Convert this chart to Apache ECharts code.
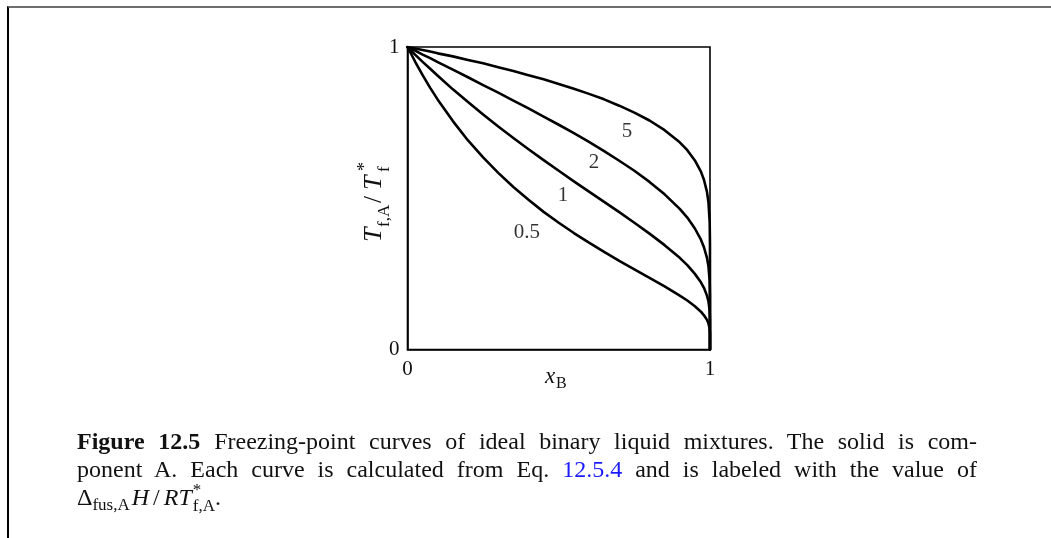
<!DOCTYPE html>
<html>
<head>
<meta charset="utf-8">
<script src="https://cdn.jsdelivr.net/npm/echarts@6/dist/echarts.min.js"></script>
<style>
  html, body { margin:0; padding:0; background:#fff; width:1051px; height:538px; overflow:hidden; }
  #frame { position:absolute; left:7px; top:6px; width:1044px; height:532px;
           border-top:2px solid #6e6e6e; border-left:2px solid #000; box-sizing:border-box; }
  #chart { position:absolute; left:0; top:0; width:1051px; height:538px; }
  #caption { position:absolute; left:77px; top:427px; width:900px;
             font-family:"Liberation Serif", "DejaVu Serif", serif; font-size:24px; color:#111; }
  .ln { height:28px; line-height:28px; white-space:nowrap; }
  .just { text-align:justify; text-align-last:justify; white-space:normal; overflow:visible; }
  .blue { color:#1a1aff; }
  .gap { display:inline-block; width:14px; }
  .sl { display:inline-block; margin:0 4px; }
  .stack { display:inline-block; vertical-align:middle; line-height:0.95; font-size:17px; position:relative; top:-1px; margin-left:1px; }
  .stack span { display:block; }
  sub { font-size:17px; vertical-align:-5px; line-height:0; margin-right:2px; }
</style>
</head>
<body>
<div id="frame"></div>
<div id="chart"></div>
<div id="caption">
  <div class="ln just"><b>Figure 12.5</b><span class="gap"></span>Freezing-point curves of ideal binary liquid mixtures. The solid is com-</div>
  <div class="ln just">ponent A. Each curve is calculated from Eq. <span class="blue">12.5.4</span> and is labeled with the value of</div>
  <div class="ln">Δ<sub>fus,A</sub><i>H</i><span class="sl">/</span><i>RT</i><span class="stack"><span>*</span><span>f,A</span></span>.</div>
</div>
<script>
// mole fraction of B (x axis)
const xB = [0, 0.025, 0.05, 0.075, 0.1, 0.15, 0.2, 0.25, 0.3, 0.35, 0.4, 0.45, 0.5, 0.55, 0.6, 0.65, 0.7, 0.75, 0.8, 0.85, 0.9, 0.925, 0.95, 0.97, 0.98, 0.99, 0.995, 0.999, 0.9999, 1];
// T_f,A / T*_f for each curve label value
const curve05 = [1, 0.952, 0.907, 0.865, 0.826, 0.755, 0.691, 0.635, 0.584, 0.537, 0.495, 0.455, 0.419, 0.385, 0.353, 0.323, 0.293, 0.265, 0.237, 0.209, 0.178, 0.162, 0.143, 0.125, 0.113, 0.098, 0.086, 0.068, 0.052, 0];
const curve1  = [1, 0.975, 0.951, 0.928, 0.905, 0.860, 0.818, 0.777, 0.737, 0.699, 0.662, 0.626, 0.591, 0.556, 0.522, 0.488, 0.454, 0.419, 0.383, 0.345, 0.303, 0.279, 0.250, 0.222, 0.204, 0.178, 0.159, 0.126, 0.098, 0];
const curve2  = [1, 0.988, 0.975, 0.963, 0.950, 0.925, 0.900, 0.874, 0.849, 0.823, 0.797, 0.770, 0.743, 0.715, 0.686, 0.656, 0.624, 0.591, 0.554, 0.513, 0.465, 0.436, 0.400, 0.363, 0.338, 0.303, 0.274, 0.225, 0.178, 0];
const curve5  = [1, 0.995, 0.990, 0.985, 0.979, 0.969, 0.957, 0.946, 0.933, 0.921, 0.907, 0.893, 0.878, 0.862, 0.845, 0.827, 0.806, 0.783, 0.757, 0.725, 0.685, 0.659, 0.625, 0.588, 0.561, 0.521, 0.486, 0.420, 0.352, 0];
const curveNames = ['0.5', '1', '2', '5'];
// curve label positions (data coordinates)
const labelText = ['0.5', '1', '2', '5'];
const labelX = [0.395, 0.514, 0.6165, 0.726];
const labelY = [0.388, 0.51, 0.617, 0.722];
const xTicks = [0, 1];
const yTicks = [0, 1];

const SERIF = '"Liberation Serif", "DejaVu Serif", serif';
const chart = echarts.init(document.getElementById('chart'), null, {renderer: 'canvas'});
const curves = [curve05, curve1, curve2, curve5];

const series = curves.map((c, i) => ({
  name: curveNames[i],
  type: 'line',
  data: xB.map((x, j) => [x, c[j]]),
  showSymbol: false,
  smooth: false,
  lineStyle: {color: '#000', width: 2.6, join: 'round', cap: 'round'},
  emphasis: {disabled: true},
  z: 3
}));
series.push({
  type: 'scatter',
  symbolSize: 0,
  silent: true,
  data: labelText.map((t, i) => ({value: [labelX[i], labelY[i]], name: t})),
  label: {show: true, position: 'inside', formatter: p => p.name,
          fontFamily: SERIF, fontSize: 21, color: '#000'},
  emphasis: {disabled: true},
  z: 4
});

chart.setOption({
  animation: false,
  backgroundColor: 'transparent',
  grid: {left: 407.5, top: 47, width: 302.5, height: 302.5, show: true,
         borderColor: '#000', borderWidth: 1.6, backgroundColor: 'transparent'},
  xAxis: {type: 'value', min: 0, max: 1, interval: 1,
          axisLine: {show: true, lineStyle: {color: '#000', width: 1.6}},
          axisTick: {show: false}, splitLine: {show: false},
          axisLabel: {margin: 9, fontFamily: SERIF, fontSize: 21, color: '#111',
                      formatter: v => xTicks.includes(v) ? String(v) : ''}},
  yAxis: {type: 'value', min: 0, max: 1, interval: 1,
          axisLine: {show: true, lineStyle: {color: '#000', width: 1.6}},
          axisTick: {show: false}, splitLine: {show: false},
          axisLabel: {margin: 8, fontFamily: SERIF, fontSize: 21, color: '#111',
                      formatter: v => yTicks.includes(v) ? String(v) : ''}},
  graphic: [
    {type: 'group', x: 374, y: 198, rotation: Math.PI / 2, children: [
      {type: 'text', x: -44, y: 0, style: {text: 'T', font: 'italic 26px ' + SERIF, fill: '#111', verticalAlign: 'middle', align: 'left'}},
      {type: 'text', x: -29, y: 11, style: {text: 'f,A', font: '17px ' + SERIF, fill: '#111', verticalAlign: 'middle', align: 'left'}},
      {type: 'text', x: -5, y: 0, style: {text: '/', font: '25px ' + SERIF, fill: '#111', verticalAlign: 'middle', align: 'left'}},
      {type: 'text', x: 8, y: 0, style: {text: 'T', font: 'italic 26px ' + SERIF, fill: '#111', verticalAlign: 'middle', align: 'left'}},
      {type: 'text', x: 27, y: -9, style: {text: '*', font: '18px ' + SERIF, fill: '#111', verticalAlign: 'middle', align: 'left'}},
      {type: 'text', x: 26, y: 11, style: {text: 'f', font: '17px ' + SERIF, fill: '#111', verticalAlign: 'middle', align: 'left'}}
    ]},
    {type: 'text', x: 545, y: 377, style: {text: 'x', font: 'italic 23px ' + SERIF, fill: '#111', verticalAlign: 'middle', align: 'left'}},
    {type: 'text', x: 556, y: 384, style: {text: 'B', font: '16px ' + SERIF, fill: '#111', verticalAlign: 'middle', align: 'left'}}
  ],
  series: series
});
</script>
</body>
</html>
